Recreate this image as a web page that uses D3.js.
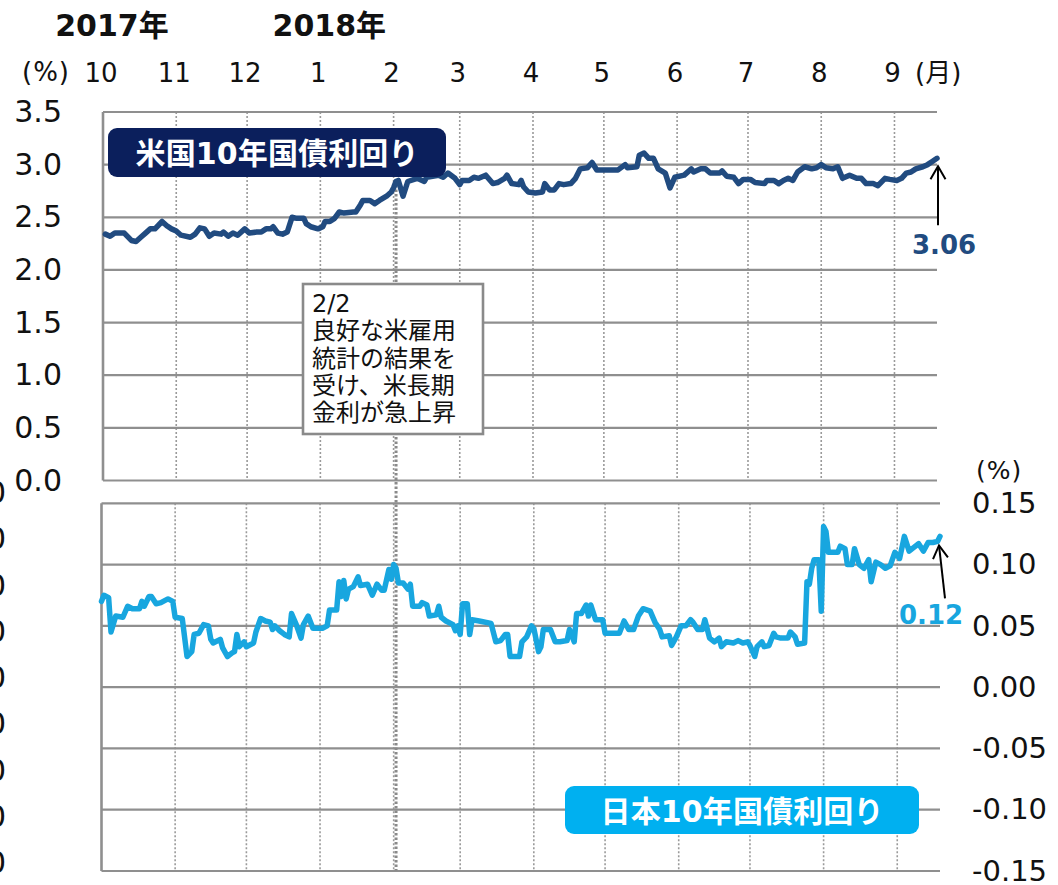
<!DOCTYPE html>
<html>
<head>
<meta charset="utf-8">
<script src="https://cdn.jsdelivr.net/npm/d3@7"></script>
<style>
  body { margin: 0; background: #fff; }
  text { font-family: "DejaVu Sans", "Noto Sans CJK JP", sans-serif; }
</style>
</head>
<body>
<svg id="chart" width="1058" height="885"></svg>
<script>
// ---- US 10-year Treasury yield (%) ----
const usDates = [
  "2017-10-02","2017-10-04","2017-10-06","2017-10-10","2017-10-13","2017-10-15","2017-10-17","2017-10-19",
  "2017-10-21","2017-10-23","2017-10-26","2017-10-28","2017-10-30","2017-11-01","2017-11-03","2017-11-07",
  "2017-11-09","2017-11-11","2017-11-13","2017-11-15","2017-11-17","2017-11-20","2017-11-21","2017-11-23",
  "2017-11-25","2017-11-27","2017-11-30","2017-12-02","2017-12-05","2017-12-07","2017-12-09","2017-12-11",
  "2017-12-12","2017-12-14","2017-12-16","2017-12-18","2017-12-20","2017-12-22","2017-12-25","2017-12-26",
  "2017-12-28","2017-12-31","2018-01-02","2018-01-03","2018-01-05","2018-01-07","2018-01-09","2018-01-11",
  "2018-01-15","2018-01-16","2018-01-18","2018-01-19","2018-01-22","2018-01-24","2018-01-26","2018-01-29",
  "2018-01-31","2018-02-01","2018-02-02","2018-02-03","2018-02-05","2018-02-07","2018-02-11","2018-02-14",
  "2018-02-15","2018-02-20","2018-02-22","2018-02-24","2018-02-27","2018-03-01","2018-03-02","2018-03-05",
  "2018-03-07","2018-03-09","2018-03-12","2018-03-15","2018-03-17","2018-03-20","2018-03-21","2018-03-23",
  "2018-03-26","2018-03-27","2018-03-28","2018-03-30","2018-04-02","2018-04-05","2018-04-06","2018-04-08",
  "2018-04-10","2018-04-12","2018-04-14","2018-04-17","2018-04-19","2018-04-21","2018-04-24","2018-04-26",
  "2018-04-28","2018-05-01","2018-05-07","2018-05-10","2018-05-11","2018-05-15","2018-05-16","2018-05-18",
  "2018-05-20","2018-05-22","2018-05-24","2018-05-27","2018-05-29","2018-05-31","2018-06-04","2018-06-07",
  "2018-06-08","2018-06-11","2018-06-13","2018-06-15","2018-06-19","2018-06-20","2018-06-22","2018-06-25",
  "2018-06-27","2018-06-29","2018-07-02","2018-07-04","2018-07-08","2018-07-09","2018-07-12","2018-07-14",
  "2018-07-16","2018-07-18","2018-07-20","2018-07-22","2018-07-25","2018-07-28","2018-07-30","2018-08-01",
  "2018-08-03","2018-08-06","2018-08-08","2018-08-10","2018-08-13","2018-08-16","2018-08-18","2018-08-20",
  "2018-08-23","2018-08-25","2018-08-28","2018-08-30","2018-09-02","2018-09-04","2018-09-06","2018-09-08",
  "2018-09-10","2018-09-13","2018-09-15","2018-09-17","2018-09-19"
];
const usYield = [
  2.34,2.32,2.35,2.35,2.28,2.27,2.31,2.35,
  2.39,2.39,2.46,2.42,2.39,2.37,2.33,2.31,
  2.34,2.40,2.39,2.32,2.35,2.34,2.36,2.32,
  2.35,2.33,2.39,2.35,2.36,2.36,2.39,2.39,
  2.41,2.35,2.34,2.36,2.50,2.49,2.49,2.44,
  2.41,2.39,2.41,2.46,2.46,2.49,2.55,2.54,
  2.55,2.55,2.62,2.66,2.66,2.63,2.66,2.70,
  2.74,2.78,2.84,2.85,2.70,2.84,2.87,2.84,
  2.88,2.90,2.88,2.92,2.87,2.81,2.85,2.85,
  2.88,2.87,2.90,2.82,2.83,2.87,2.90,2.82,
  2.81,2.85,2.79,2.74,2.73,2.74,2.82,2.76,
  2.76,2.82,2.81,2.82,2.87,2.96,2.97,3.02,
  2.95,2.95,2.95,3.00,2.97,2.98,3.09,3.11,
  3.06,3.06,2.96,2.92,2.78,2.88,2.90,2.96,
  2.93,2.96,2.96,2.92,2.92,2.94,2.89,2.88,
  2.82,2.86,2.86,2.83,2.82,2.85,2.85,2.82,
  2.85,2.87,2.85,2.93,2.98,2.96,2.97,3.00,
  2.97,2.96,2.98,2.87,2.90,2.87,2.87,2.82,
  2.82,2.80,2.87,2.86,2.85,2.87,2.92,2.93,
  2.96,2.98,3.00,3.03,3.06
];

// ---- Japan 10-year JGB yield (%) ----
const jpDates = [
  "2017-10-01","2017-10-02","2017-10-04","2017-10-05","2017-10-07","2017-10-10","2017-10-12","2017-10-14",
  "2017-10-17","2017-10-18","2017-10-19","2017-10-21","2017-10-22","2017-10-24","2017-10-26","2017-10-29",
  "2017-10-31","2017-11-01","2017-11-04","2017-11-06","2017-11-08","2017-11-09","2017-11-11","2017-11-13",
  "2017-11-15","2017-11-16","2017-11-17","2017-11-20","2017-11-21","2017-11-23","2017-11-25","2017-11-26",
  "2017-11-27","2017-11-28","2017-11-30","2017-12-01","2017-12-04","2017-12-05","2017-12-07","2017-12-09",
  "2017-12-11","2017-12-12","2017-12-13","2017-12-15","2017-12-17","2017-12-19","2017-12-20","2017-12-22",
  "2017-12-24","2017-12-25","2017-12-27","2017-12-29","2018-01-02","2018-01-04","2018-01-05","2018-01-08",
  "2018-01-09","2018-01-10","2018-01-11","2018-01-12","2018-01-13","2018-01-15","2018-01-17","2018-01-18",
  "2018-01-21","2018-01-23","2018-01-25","2018-01-27","2018-01-28","2018-01-30","2018-01-31","2018-02-01",
  "2018-02-02","2018-02-03","2018-02-05","2018-02-07","2018-02-08","2018-02-09","2018-02-12","2018-02-13",
  "2018-02-15","2018-02-16","2018-02-19","2018-02-20","2018-02-21","2018-02-23","2018-02-26","2018-02-27",
  "2018-02-28","2018-03-01","2018-03-02","2018-03-04","2018-03-05","2018-03-06","2018-03-09","2018-03-14",
  "2018-03-16","2018-03-18","2018-03-20","2018-03-21","2018-03-22","2018-03-26","2018-03-27","2018-03-29",
  "2018-03-31","2018-04-01","2018-04-03","2018-04-04","2018-04-05","2018-04-08","2018-04-10","2018-04-12",
  "2018-04-15","2018-04-16","2018-04-18","2018-04-19","2018-04-21","2018-04-23","2018-04-24","2018-04-25",
  "2018-04-27","2018-04-30","2018-05-01","2018-05-03","2018-05-07","2018-05-09","2018-05-11","2018-05-13",
  "2018-05-15","2018-05-17","2018-05-20","2018-05-22","2018-05-24","2018-05-25","2018-05-28","2018-05-29",
  "2018-05-31","2018-06-02","2018-06-04","2018-06-06","2018-06-07","2018-06-09","2018-06-11","2018-06-12",
  "2018-06-14","2018-06-16","2018-06-18","2018-06-19","2018-06-21","2018-06-24","2018-06-26","2018-06-28",
  "2018-06-30","2018-07-01","2018-07-03","2018-07-04","2018-07-06","2018-07-07","2018-07-09","2018-07-11",
  "2018-07-12","2018-07-14","2018-07-17","2018-07-18","2018-07-20","2018-07-21","2018-07-24","2018-07-25",
  "2018-07-26","2018-07-27","2018-07-28","2018-07-30","2018-07-31","2018-08-01","2018-08-02","2018-08-03",
  "2018-08-07","2018-08-08","2018-08-10","2018-08-11","2018-08-13","2018-08-14","2018-08-16","2018-08-18",
  "2018-08-20","2018-08-21","2018-08-23","2018-08-25","2018-08-27","2018-08-29","2018-08-31","2018-09-02",
  "2018-09-04","2018-09-06","2018-09-08","2018-09-10","2018-09-12","2018-09-14","2018-09-16","2018-09-18",
  "2018-09-19"
];
const jpYield = [
  0.070,0.075,0.073,0.045,0.058,0.057,0.066,0.064,
  0.064,0.070,0.066,0.074,0.074,0.068,0.069,0.072,
  0.070,0.057,0.056,0.025,0.029,0.043,0.044,0.051,
  0.050,0.039,0.036,0.039,0.032,0.025,0.028,0.029,
  0.043,0.033,0.037,0.033,0.036,0.045,0.056,0.054,
  0.053,0.047,0.050,0.046,0.043,0.041,0.060,0.051,
  0.040,0.051,0.058,0.048,0.048,0.050,0.063,0.063,
  0.086,0.074,0.087,0.072,0.080,0.082,0.090,0.083,
  0.084,0.075,0.084,0.079,0.079,0.096,0.088,0.100,
  0.097,0.085,0.085,0.080,0.084,0.066,0.066,0.069,
  0.067,0.058,0.059,0.066,0.057,0.054,0.051,0.046,
  0.050,0.043,0.068,0.068,0.043,0.055,0.054,0.052,
  0.037,0.038,0.043,0.043,0.025,0.025,0.037,0.041,
  0.050,0.048,0.029,0.033,0.047,0.047,0.037,0.037,
  0.038,0.047,0.037,0.060,0.060,0.067,0.058,0.067,
  0.055,0.055,0.044,0.044,0.044,0.054,0.047,0.047,
  0.058,0.064,0.062,0.053,0.047,0.041,0.042,0.034,
  0.041,0.050,0.050,0.055,0.053,0.047,0.047,0.055,
  0.040,0.037,0.040,0.033,0.037,0.036,0.038,0.036,
  0.037,0.034,0.025,0.033,0.037,0.033,0.034,0.044,
  0.041,0.040,0.040,0.045,0.041,0.035,0.036,0.086,
  0.084,0.097,0.104,0.104,0.062,0.131,0.127,0.110,
  0.110,0.115,0.113,0.100,0.100,0.113,0.100,0.097,
  0.104,0.086,0.102,0.100,0.097,0.099,0.110,0.105,
  0.123,0.111,0.114,0.117,0.111,0.118,0.118,0.119,
  0.123
];

// ---- Axis ticks and labels ----
const usTicks = [0, 0.5, 1.0, 1.5, 2.0, 2.5, 3.0, 3.5];
const jpTicks = [-0.15, -0.10, -0.05, 0, 0.05, 0.10, 0.15];
const outerLeftTicks = [-4, -3, -2, -1, 0, 1, 2, 3, 4];
const dateRange = ["2017-10-01", "2018-09-19"];
const yearLabels = [["2017-10-01", "2017年"], ["2018-01-01", "2018年"]];
const usLegend = "米国10年国債利回り";
const jpLegend = "日本10年国債利回り";
const eventDate = "2018-02-02";
const eventNote = ["2/2", "良好な米雇用", "統計の結果を", "受け、米長期", "金利が急上昇"];

// ---- Colours ----
const usColor = "#214b80";
const jpColor = "#18a6df";
const gridColor = "#8f8f8f";

const parse = d3.timeParse("%Y-%m-%d");
const us = usDates.map((d, i) => ({ date: parse(d), value: usYield[i] }));
const jp = jpDates.map((d, i) => ({ date: parse(d), value: jpYield[i] }));
const domain = dateRange.map(parse);

const svg = d3.select("#chart");
svg.append("rect").attr("width", 1058).attr("height", 885).attr("fill", "#fff");

// Scales: the two panels share the time span, each has its own frame
const xTop = d3.scaleTime().domain(domain).range([103, 937]);
const xBot = d3.scaleTime().domain(domain).range([101.5, 940]);
const yTop = d3.scaleLinear().domain([0, 3.5]).range([480.5, 112]);
const yBot = d3.scaleLinear().domain([-0.15, 0.15]).range([871, 503.3]);
const yOuter = d3.scaleLinear().domain([-4, 4]).range([863, 493]);

const months = d3.timeMonth.range(d3.timeMonth.offset(domain[0], 1), domain[1]);

function drawFrame(x, y, ticks) {
  const g = svg.append("g");
  // vertical dotted month lines
  g.selectAll("line.v").data(months).join("line")
    .attr("x1", d => x(d)).attr("x2", d => x(d))
    .attr("y1", y.range()[1]).attr("y2", y.range()[0])
    .attr("stroke", "#9a9a9a").attr("stroke-width", 1.6)
    .attr("stroke-dasharray", "2,2");
  // horizontal grid lines
  g.selectAll("line.h").data(ticks).join("line")
    .attr("x1", x.range()[0]).attr("x2", x.range()[1])
    .attr("y1", d => y(d)).attr("y2", d => y(d))
    .attr("stroke", gridColor).attr("stroke-width", 2.2);
  // left frame edge
  g.append("line")
    .attr("x1", x.range()[0]).attr("x2", x.range()[0])
    .attr("y1", y.range()[1]).attr("y2", y.range()[0])
    .attr("stroke", gridColor).attr("stroke-width", 2.6);
  return g;
}

drawFrame(xTop, yTop, usTicks);
drawFrame(xBot, yBot, jpTicks);

// Event marker line on 2 Feb
svg.append("line")
  .attr("x1", xBot(parse(eventDate))).attr("x2", xBot(parse(eventDate)))
  .attr("y1", yTop(2.85)).attr("y2", yBot(-0.15))
  .attr("stroke", "#8a8a8a").attr("stroke-width", 3)
  .attr("stroke-dasharray", "2.5,2");

// Left axis (top panel)
const axL = svg.append("g").attr("transform", `translate(${xTop.range()[0]},0)`)
  .call(d3.axisLeft(yTop).tickValues(usTicks).tickFormat(d => d.toFixed(1)).tickSize(0).tickPadding(41));
axL.select(".domain").remove();
axL.selectAll("text").attr("font-size", 30).attr("font-family", "DejaVu Sans").attr("fill", "#111");

// Right axis (bottom panel)
const axR = svg.append("g").attr("transform", `translate(${xBot.range()[1]},0)`)
  .call(d3.axisRight(yBot).tickValues(jpTicks).tickFormat(d => d.toFixed(2)).tickSize(0).tickPadding(32));
axR.select(".domain").remove();
axR.selectAll("text").attr("font-size", 29).attr("font-family", "DejaVu Sans").attr("fill", "#111");

// Outer left axis of the bottom panel (labels run off the page edge)
const axO = svg.append("g").attr("transform", "translate(6,0)")
  .call(d3.axisLeft(yOuter).tickValues(outerLeftTicks).tickFormat(d => d.toFixed(1)).tickSize(0).tickPadding(0));
axO.select(".domain").remove();
axO.selectAll("text").attr("font-size", 30).attr("font-family", "DejaVu Sans").attr("fill", "#111");

// Month labels
svg.append("g").selectAll("text").data([domain[0], ...months]).join("text")
  .attr("x", d => xTop(d) - 2).attr("y", 82)
  .attr("text-anchor", "middle").attr("font-size", 26).attr("fill", "#111")
  .text(d => d.getMonth() + 1);

// Year labels
svg.append("g").selectAll("text").data(yearLabels).join("text")
  .attr("x", d => xTop(parse(d[0])) + 9).attr("y", 36)
  .attr("text-anchor", "middle").attr("font-size", 30).attr("font-weight", "bold").attr("fill", "#111")
  .text(d => d[1]);

// Unit labels
svg.append("text").attr("x", 22).attr("y", 81).attr("font-size", 26).attr("letter-spacing", 1)
  .attr("fill", "#111").text("(%)");
svg.append("text").attr("x", 976).attr("y", 479).attr("font-size", 25).attr("letter-spacing", 1)
  .attr("fill", "#111").text("(%)");
svg.append("text").attr("x", xTop(domain[1]) - 22).attr("y", 82).attr("font-size", 26)
  .attr("fill", "#111").text("(月)");

// Series lines
const lineTop = d3.line().x(d => xTop(d.date)).y(d => yTop(d.value)).curve(d3.curveLinear);
const lineBot = d3.line().x(d => xBot(d.date)).y(d => yBot(d.value)).curve(d3.curveLinear);
svg.append("path").datum(us).attr("d", lineTop).attr("fill", "none")
  .attr("stroke", usColor).attr("stroke-width", 5.5).attr("stroke-linejoin", "round").attr("stroke-linecap", "round");
svg.append("path").datum(jp).attr("d", lineBot).attr("fill", "none")
  .attr("stroke", jpColor).attr("stroke-width", 5.5).attr("stroke-linejoin", "round").attr("stroke-linecap", "round");

// Event annotation box
const note = svg.append("g");
note.append("rect").attr("x", 303).attr("y", 284).attr("width", 180).attr("height", 150)
  .attr("fill", "#fff").attr("stroke", "#8a8a8a").attr("stroke-width", 2.6);
note.selectAll("text").data(eventNote).join("text")
  .attr("x", 312).attr("y", (d, i) => 312 + i * 27.3)
  .attr("font-family", "Noto Sans CJK JP").attr("font-size", 24).attr("fill", "#111")
  .text(d => d);

// Legend badges
function badge(cx, cy, w, h, fill, label) {
  const g = svg.append("g");
  g.append("rect").attr("x", cx - w / 2).attr("y", cy - h / 2).attr("width", w).attr("height", h)
    .attr("rx", 9).attr("fill", fill);
  g.append("text").attr("x", cx).attr("y", cy + 1).attr("text-anchor", "middle")
    .attr("dominant-baseline", "central")
    .attr("font-family", "Noto Sans CJK JP").attr("font-weight", "bold").attr("font-size", 30)
    .attr("fill", "#fff").attr("textLength", 283).attr("lengthAdjust", "spacing")
    .text(label);
}
badge(277, 152.5, 338, 49, "#0b1f5c", usLegend);
badge(742, 810, 354, 48, "#00b0f0", jpLegend);

// Arrow with an open chevron head
function arrow(x1, y1, x2, y2) {
  const ang = Math.atan2(y2 - y1, x2 - x1);
  const L = 15, a = Math.PI / 6;
  const p1 = [x2 - L * Math.cos(ang - a), y2 - L * Math.sin(ang - a)];
  const p2 = [x2 - L * Math.cos(ang + a), y2 - L * Math.sin(ang + a)];
  svg.append("line").attr("x1", x1).attr("y1", y1).attr("x2", x2).attr("y2", y2)
    .attr("stroke", "#000").attr("stroke-width", 2);
  svg.append("path").attr("d", `M${p1[0]},${p1[1]}L${x2},${y2}L${p2[0]},${p2[1]}`)
    .attr("fill", "none").attr("stroke", "#000").attr("stroke-width", 2);
}

// Latest-value callouts
const usLast = us[us.length - 1];
const ux = xTop(usLast.date), uy = yTop(usLast.value);
arrow(ux + 1, uy + 67, ux + 1, uy + 8);
svg.append("text").attr("x", ux + 7).attr("y", uy + 96).attr("text-anchor", "middle")
  .attr("font-size", 26).attr("font-weight", "bold").attr("fill", usColor)
  .text(usLast.value.toFixed(2));

const jpLast = jp[jp.length - 1];
const jx = xBot(jpLast.date), jy = yBot(jpLast.value);
arrow(jx + 5, jy + 62, jx - 1, jy + 9);
svg.append("text").attr("x", jx - 9).attr("y", jy + 88).attr("text-anchor", "middle")
  .attr("font-size", 26).attr("font-weight", "bold").attr("fill", jpColor)
  .text(jpLast.value.toFixed(2));
</script>
</body>
</html>
